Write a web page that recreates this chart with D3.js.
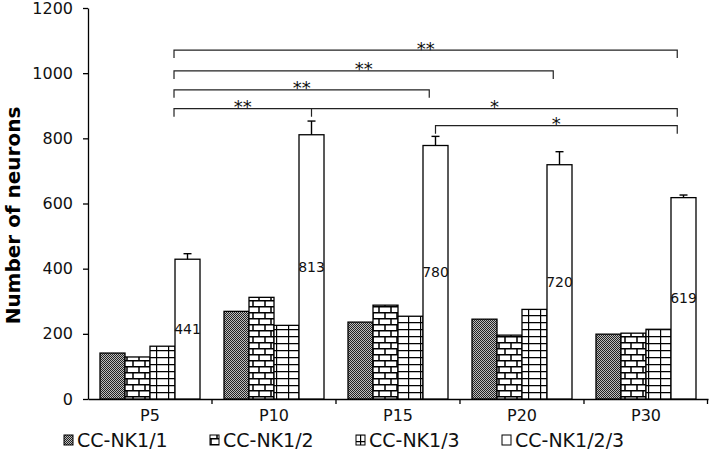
<!DOCTYPE html>
<html><head><meta charset="utf-8">
<script src="https://cdn.jsdelivr.net/npm/d3@7"></script>
<style>
html,body{margin:0;padding:0;background:#fff;}
svg{display:block;font-family:"DejaVu Sans",Verdana,sans-serif;}
</style></head>
<body>
<svg id="chart" width="709" height="459"></svg>
<script>
// ---- data ----
const categories = ["P5", "P10", "P15", "P20", "P30"];
const seriesNames = ["CC-NK1/1", "CC-NK1/2", "CC-NK1/3", "CC-NK1/2/3"];
const nk1_1   = [141, 269, 236, 245, 199];
const nk1_2   = [129, 312, 288, 196, 202];
const nk1_3   = [162, 226, 254, 275, 214];
const nk1_123 = [429, 811, 778, 719, 618];
const err123  = [17, 42, 28, 40, 8];
const valueLabels = ["441", "813", "780", "720", "619"];
const yTicks = [0, 200, 400, 600, 800, 1000, 1200];
const yLabel = "Number of neurons";
// significance brackets: from-category, to-category, level (data units), label
const bracketFrom  = ["P5", "P5", "P5", "P5", "P10", "P15"];
const bracketTo    = ["P30", "P20", "P15", "P10", "P30", "P30"];
const bracketLevel = [1071, 1007, 949, 891, 891, 839];
const bracketText  = ["**", "**", "**", "**", "*", "*"];

const seriesValues = [nk1_1, nk1_2, nk1_3, nk1_123];

// ---- layout ----
const W = 709, H = 459;
const m = {left: 88, right: 1, top: 8, bottom: 60};
const svg = d3.select("#chart");

const x0 = d3.scaleBand().domain(categories)
  .range([m.left, W - m.right]).paddingInner(0.1935).paddingOuter(0.0968);
const x1 = d3.scaleBand().domain(seriesNames).range([0, x0.bandwidth()]).padding(0);
const y = d3.scaleLinear().domain([0, 1200]).range([H - m.bottom, m.top]);

// ---- patterns ----
const defs = svg.append("defs");
const pd = defs.append("pattern").attr("id", "pDots").attr("patternUnits", "userSpaceOnUse")
  .attr("width", 2).attr("height", 2);
pd.append("rect").attr("width", 2).attr("height", 2).attr("fill", "#bdbdbd");
pd.append("rect").attr("x", 0).attr("y", 0).attr("width", 1).attr("height", 1).attr("fill", "#222");
pd.append("rect").attr("x", 1).attr("y", 1).attr("width", 1).attr("height", 1).attr("fill", "#222");
const pb = defs.append("pattern").attr("id", "pBrick").attr("patternUnits", "userSpaceOnUse")
  .attr("width", 12).attr("height", 12);
pb.append("rect").attr("width", 12).attr("height", 12).attr("fill", "#fff");
pb.append("path").attr("d", "M0,0.75H12M0,6.75H12M1,0V6.75M7,6.75V12")
  .attr("stroke", "#000").attr("stroke-width", 1.5).attr("fill", "none");
const pg = defs.append("pattern").attr("id", "pGrid").attr("patternUnits", "userSpaceOnUse")
  .attr("width", 12).attr("height", 7);
pg.append("rect").attr("width", 12).attr("height", 7).attr("fill", "#fff");
pg.append("path").attr("d", "M0,0.6H12M0.6,0V7")
  .attr("stroke", "#000").attr("stroke-width", 1.2).attr("fill", "none");

const fills = ["url(#pDots)", "url(#pBrick)", "url(#pGrid)", "#fff"];

// ---- axes ----
const yAxis = svg.append("g").attr("transform", `translate(${m.left},0)`)
  .call(d3.axisLeft(y).tickValues(yTicks).tickFormat(d3.format("d"))
    .tickSizeInner(5).tickSizeOuter(0).tickPadding(10));
yAxis.select(".domain").attr("stroke", "#000").attr("stroke-width", 1.3);
yAxis.selectAll(".tick line").attr("stroke", "#000").attr("stroke-width", 1.3);
yAxis.selectAll(".tick text").attr("font-size", 16).attr("fill", "#111")
  .attr("font-family", "DejaVu Sans");

const xAxis = svg.append("g").attr("transform", `translate(0,${y(0)})`)
  .call(d3.axisBottom(x0).tickSize(0).tickPadding(11));
xAxis.select(".domain").attr("stroke", "#000").attr("stroke-width", 1.3);
xAxis.selectAll(".tick text").attr("font-size", 16).attr("fill", "#111")
  .attr("font-family", "DejaVu Sans");
const bounds = categories.map(c => x0(c) - x0.step() * x0.paddingOuter());
bounds.push(W - m.right - 0.5);
svg.append("g").selectAll("line").data(bounds.slice(1)).join("line")
  .attr("x1", d => d).attr("x2", d => d).attr("y1", y(0)).attr("y2", y(0) + 5)
  .attr("stroke", "#000").attr("stroke-width", 1.3);

// ---- bars ----
const barData = [];
categories.forEach((c, i) => seriesNames.forEach((s, j) => {
  barData.push({c, s, j, i, v: seriesValues[j][i]});
}));
svg.append("g").selectAll("rect").data(barData).join("rect")
  .attr("x", d => x0(d.c) + x1(d.s))
  .attr("y", d => y(d.v))
  .attr("width", x1.bandwidth())
  .attr("height", d => y(0) - y(d.v))
  .attr("fill", d => fills[d.j])
  .attr("stroke", "#000").attr("stroke-width", 1.3);

// error bars for CC-NK1/2/3
const wx = c => x0(c) + x1("CC-NK1/2/3") + x1.bandwidth() / 2;
const eg = svg.append("g").attr("stroke", "#000").attr("stroke-width", 1.4);
categories.forEach((c, i) => {
  eg.append("line").attr("x1", wx(c)).attr("x2", wx(c))
    .attr("y1", y(nk1_123[i])).attr("y2", y(nk1_123[i] + err123[i]));
  eg.append("line").attr("x1", wx(c) - 4).attr("x2", wx(c) + 4)
    .attr("y1", y(nk1_123[i] + err123[i])).attr("y2", y(nk1_123[i] + err123[i]));
});

// value labels
svg.append("g").selectAll("text").data(categories).join("text")
  .attr("x", c => wx(c)).attr("y", (c, i) => y(nk1_123[i] / 2))
  .attr("text-anchor", "middle").attr("dominant-baseline", "central")
  .attr("font-size", 14).attr("fill", "#111")
  .text((c, i) => valueLabels[i]);

// ---- significance brackets ----
const bw = x1.bandwidth();
const leftAnchor = c => x0(c) + x1("CC-NK1/2/3") - 1;
const centerAnchor = c => wx(c);
const rightAnchor = c => x0(c) + x1("CC-NK1/2/3") + bw * 0.25;
const drop = 8;
const bg = svg.append("g").attr("fill", "none").attr("stroke", "#222").attr("stroke-width", 1.2);
const sg = svg.append("g");
bracketFrom.forEach((f, k) => {
  const to = bracketTo[k];
  const ly = y(bracketLevel[k]);
  const xs = f === "P5" ? leftAnchor(f) : centerAnchor(f);
  const xe = to === "P10" ? centerAnchor(to) : rightAnchor(to);
  const startDrop = f !== "P10";
  let d = startDrop ? `M${xs},${ly + drop}V${ly}` : `M${xs},${ly}`;
  d += `H${xe}V${ly + drop}`;
  bg.append("path").attr("d", d);
  sg.append("text").attr("x", (xs + xe) / 2).attr("y", ly + 4.5)
    .attr("text-anchor", "middle").attr("font-size", 18).attr("fill", "#111")
    .text(bracketText[k]);
});

// ---- y title ----
svg.append("text")
  .attr("transform", `translate(20,${(y(0) + y(1200)) / 2 + 12}) rotate(-90)`)
  .attr("text-anchor", "middle").attr("font-size", 20).attr("font-weight", "bold")
  .attr("fill", "#000")
  .text(yLabel);

// ---- legend ----
const lg = svg.append("g");
seriesNames.forEach((s, j) => {
  const lx = 64 + j * 146;
  lg.append("rect").attr("x", lx).attr("y", 435).attr("width", 9).attr("height", 10)
    .attr("fill", fills[j]).attr("stroke", "#000").attr("stroke-width", 1);
  lg.append("text").attr("x", lx + 13).attr("y", 447).attr("font-size", 19)
    .attr("fill", "#111").text(s);
});
</script>
</body></html>
